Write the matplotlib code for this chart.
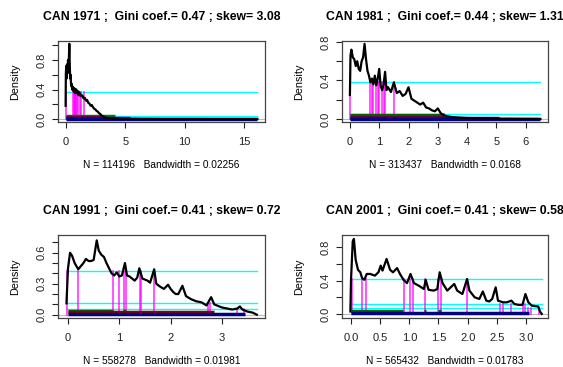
import matplotlib
matplotlib.use("Agg")
import matplotlib.pyplot as plt
import numpy as np

plt.rcParams['font.family'] = ['Liberation Sans', 'DejaVu Sans']

# ---------------------- data ----------------------
titles = ["CAN 1971 ;  Gini coef.= 0.47 ; skew= 3.08",
          "CAN 1981 ;  Gini coef.= 0.44 ; skew= 1.31",
          "CAN 1991 ;  Gini coef.= 0.41 ; skew= 0.72",
          "CAN 2001 ;  Gini coef.= 0.41 ; skew= 0.58"]
xlabels = ["N = 114196   Bandwidth = 0.02256",
           "N = 313437   Bandwidth = 0.0168",
           "N = 558278   Bandwidth = 0.01981",
           "N = 565432   Bandwidth = 0.01783"]

x1971 = [0, 0.02, 0.05, 0.08, 0.12, 0.16, 0.2, 0.24, 0.28, 0.31, 0.34, 0.38, 0.42, 0.46, 0.5,
         0.55, 0.6, 0.65, 0.7, 0.75, 0.8, 0.85, 0.9, 0.95, 1.0, 1.05, 1.1, 1.15, 1.2, 1.3, 1.4,
         1.5, 1.6, 1.7, 1.8, 1.9, 2.0, 2.1, 2.2, 2.3, 2.4, 2.5, 2.6, 2.7, 2.8, 2.9, 3.0, 3.1,
         3.2, 3.3, 3.5, 3.8, 4.2, 4.6, 5.0, 5.5, 6.0, 6.5, 7, 8, 10, 12, 14, 16.1]
y1971 = [0.18, 0.62, 0.72, 0.55, 0.74, 0.62, 0.8, 0.7, 0.85, 1.02, 0.78, 0.55, 0.6, 0.45, 0.48,
         0.4, 0.44, 0.38, 0.42, 0.36, 0.41, 0.35, 0.4, 0.36, 0.38, 0.33, 0.37, 0.32, 0.35, 0.31,
         0.32, 0.28, 0.29, 0.25, 0.26, 0.22, 0.21, 0.18, 0.19, 0.16, 0.14, 0.13, 0.11, 0.1, 0.08,
         0.07, 0.05, 0.04, 0.03, 0.02, 0.015, 0.01, 0.008, 0.006, 0.005, 0.004, 0.003, 0.002,
         0.002, 0.001, 0.001, 0.0, 0.0, 0.0]

x1981 = [0, 0.02, 0.05, 0.1, 0.15, 0.2, 0.25, 0.3, 0.35, 0.4, 0.45, 0.5, 0.55, 0.6, 0.65, 0.7,
         0.75, 0.8, 0.85, 0.9, 0.95, 1.0, 1.05, 1.1, 1.15, 1.2, 1.25, 1.3, 1.4, 1.5, 1.6, 1.7,
         1.8, 1.9, 2.0, 2.1, 2.2, 2.3, 2.4, 2.5, 2.6, 2.7, 2.8, 2.9, 3.0, 3.1, 3.2, 3.3, 3.5,
         3.7, 4.0, 4.3, 4.6, 5.0, 5.5, 6.0, 6.5]
y1981 = [0.25, 0.66, 0.72, 0.64, 0.62, 0.55, 0.6, 0.52, 0.5, 0.6, 0.64, 0.78, 0.62, 0.5, 0.45,
         0.38, 0.42, 0.36, 0.45, 0.35, 0.42, 0.52, 0.34, 0.3, 0.36, 0.49, 0.3, 0.33, 0.28, 0.38,
         0.27, 0.29, 0.24, 0.26, 0.33, 0.21, 0.19, 0.17, 0.15, 0.17, 0.12, 0.11, 0.09, 0.08,
         0.11, 0.06, 0.04, 0.03, 0.02, 0.015, 0.01, 0.008, 0.005, 0.003, 0.002, 0.001, 0.0]

x1991 = [-0.03, 0.0, 0.04, 0.08, 0.13, 0.2, 0.25, 0.3, 0.35, 0.4, 0.45, 0.5, 0.56, 0.6, 0.65,
         0.7, 0.75, 0.8, 0.85, 0.9, 0.95, 1.0, 1.05, 1.11, 1.15, 1.2, 1.25, 1.3, 1.35, 1.39, 1.45,
         1.5, 1.55, 1.6, 1.68, 1.72, 1.8, 1.87, 1.95, 2.0, 2.05, 2.1, 2.15, 2.23, 2.3, 2.4, 2.5,
         2.6, 2.7, 2.79, 2.85, 2.9, 3.0, 3.1, 3.2, 3.3, 3.35, 3.4, 3.5, 3.6, 3.68]
y1991 = [0.11, 0.45, 0.6, 0.57, 0.5, 0.44, 0.47, 0.5, 0.54, 0.52, 0.52, 0.53, 0.72, 0.62, 0.58,
         0.56, 0.5, 0.45, 0.4, 0.38, 0.41, 0.37, 0.38, 0.5, 0.38, 0.37, 0.35, 0.33, 0.36, 0.45,
         0.35, 0.34, 0.33, 0.31, 0.44, 0.3, 0.27, 0.25, 0.29, 0.25, 0.22, 0.2, 0.2, 0.28, 0.18,
         0.15, 0.13, 0.12, 0.09, 0.17, 0.1, 0.09, 0.07, 0.06, 0.05, 0.06, 0.08, 0.05, 0.03, 0.02,
         0.0]

x2001 = [-0.01, 0.0, 0.03, 0.05, 0.08, 0.12, 0.16, 0.19, 0.23, 0.27, 0.33, 0.41, 0.47, 0.51,
         0.54, 0.61, 0.67, 0.72, 0.79, 0.84, 0.9, 0.96, 1.02, 1.08, 1.16, 1.25, 1.28, 1.33, 1.42,
         1.48, 1.52, 1.57, 1.65, 1.77, 1.82, 1.91, 1.99, 2.03, 2.12, 2.2, 2.26, 2.32, 2.37, 2.42,
         2.48, 2.52, 2.61, 2.67, 2.75, 2.8, 2.87, 2.94, 2.99, 3.04, 3.1, 3.21, 3.24, 3.27]
y2001 = [0.03, 0.4, 0.87, 0.9, 0.65, 0.53, 0.5, 0.43, 0.41, 0.48, 0.48, 0.46, 0.5, 0.58, 0.52,
         0.66, 0.53, 0.5, 0.55, 0.48, 0.41, 0.37, 0.48, 0.37, 0.34, 0.3, 0.41, 0.29, 0.28, 0.3,
         0.5, 0.37, 0.28, 0.36, 0.28, 0.24, 0.42, 0.28, 0.2, 0.18, 0.27, 0.16, 0.15, 0.18, 0.32,
         0.16, 0.14, 0.14, 0.16, 0.12, 0.11, 0.11, 0.24, 0.14, 0.1, 0.09, 0.03, 0.0]

curves_x = [x1971, x1981, x1991, x2001]
curves_y = [y1971, y1981, y1991, y2001]

# horizontal cyan levels and the x-extent they run to
cyan_levels = [[0.36, 0.045, 0.008], [0.38, 0.055, 0.006], [0.42, 0.11, 0.055], [0.42, 0.12, 0.075]]
cyan_end = [16.1, 6.5, 3.68, 3.27]

# magenta verticals: (x, top)
mag1971 = [(0.0, 0.36), (0.65, 0.36), (0.7, 0.36), (0.75, 0.36), (0.8, 0.36), (0.9, 0.36),
           (0.95, 0.36), (1.0, 0.36), (1.2, 0.36), (1.3, 0.36), (1.52, 0.36)]
mag1981 = [(0.01, 0.38), (0.68, 0.38), (0.75, 0.38), (0.8, 0.38), (0.88, 0.38), (0.95, 0.38),
           (1.0, 0.38), (1.08, 0.38), (1.15, 0.38), (1.2, 0.38), (1.52, 0.38), (3.2, 0.055)]
mag1991 = [(-0.02, 0.42), (0.2, 0.42), (0.88, 0.42), (1.0, 0.42), (1.1, 0.42), (1.14, 0.42),
           (1.4, 0.42), (1.43, 0.42), (1.68, 0.42), (2.73, 0.11), (2.77, 0.11), (3.3, 0.055),
           (3.43, 0.055)]
mag2001 = [(0.01, 0.42), (0.19, 0.42), (0.26, 0.42), (0.91, 0.42), (1.01, 0.42), (1.06, 0.42),
           (1.27, 0.42), (1.5, 0.42), (1.54, 0.42), (1.99, 0.42), (2.55, 0.12), (2.61, 0.12),
           (2.74, 0.12), (2.94, 0.12), (2.98, 0.12), (3.04, 0.075), (3.08, 0.075), (3.22, 0.075)]
magentas = [mag1971, mag1981, mag1991, mag2001]

# thick bars near the baseline: (colour, level, x start, x end)
bars1971 = [("green", 0.045, 0, 4.15), ("darkred", 0.03, 0, 3.15), ("blue", 0.014, 0, 5.4),
            ("navy", 0.003, 0, 16.1)]
bars1981 = [("darkgreen", 0.04, 0, 3.2), ("darkred", 0.026, 0, 3.2), ("blue", 0.012, 0, 5.1),
            ("navy", 0.003, 0, 6.5)]
bars1991 = [("darkgreen", 0.04, 0, 0.88), ("darkgreen", 0.04, 1.08, 1.14), ("darkred", 0.026, 0, 2.85),
            ("navy", 0.008, 0, 3.45)]
bars2001 = [("darkgreen", 0.035, 0, 0.9), ("darkgreen", 0.035, 1.25, 1.28),
            ("darkgreen", 0.035, 1.5, 1.54), ("navy", 0.008, 0, 3.05)]
bars = [bars1971, bars1981, bars1991, bars2001]

xticks = [[0, 5, 10, 15], [0, 1, 2, 3, 4, 5, 6], [0, 1, 2, 3],
          [0.0, 0.5, 1.0, 1.5, 2.0, 2.5, 3.0]]
xticklabels = [["0", "5", "10", "15"], ["0", "1", "2", "3", "4", "5", "6"], ["0", "1", "2", "3"],
               ["0.0", "0.5", "1.0", "1.5", "2.0", "2.5", "3.0"]]
yticks = [[0, 0.2, 0.4, 0.6, 0.8, 1.0], [0, 0.2, 0.4, 0.6, 0.8],
          [0, 0.1, 0.2, 0.3, 0.4, 0.5, 0.6, 0.7], [0, 0.2, 0.4, 0.6, 0.8]]
yticklabels = [["0.0", "", "0.4", "", "0.8", ""], ["0.0", "", "0.4", "", "0.8"],
               ["0.0", "", "", "0.3", "", "", "0.6", ""], ["0.0", "", "0.4", "", "0.8"]]

# ---------------------- layout ----------------------
W, H = 563, 367
boxes = [(58, 41, 265, 122), (342, 41, 548, 122), (58, 235, 265, 318), (342, 235, 548, 318)]
xlims = [(-0.64, 16.74), (-0.27, 6.76), (-0.195, 3.84), (-0.154, 3.377)]
ylims = [(-0.04, 1.058), (-0.031, 0.81), (-0.032, 0.772), (-0.048, 0.947)]

fig = plt.figure(figsize=(W / 100, H / 100), dpi=100)

for i in range(4):
    x0, y0, x1, y1 = boxes[i]
    ax = fig.add_axes([x0 / W, 1 - y1 / H, (x1 - x0) / W, (y1 - y0) / H])
    ax.set_xlim(*xlims[i])
    ax.set_ylim(*ylims[i])

    ax.axhline(0, color="#bbbbbb", lw=0.8, zorder=1)
    for lev in cyan_levels[i]:
        ax.plot([0 if i < 2 else -0.02, cyan_end[i]], [lev, lev], color="cyan", lw=1, zorder=2)
    for xm, top in magentas[i]:
        ax.plot([xm, xm], [0, top], color="magenta", lw=1.1, alpha=0.85, zorder=3)
    for col, lev, xs, xe in bars[i]:
        ax.plot([xs, xe], [lev, lev], color=col, lw=2.5, solid_capstyle="butt", zorder=4)
    ax.plot(curves_x[i], curves_y[i], color="black", lw=1.6, zorder=5)

    ax.set_xticks(xticks[i])
    ax.set_xticklabels(xticklabels[i])
    ax.set_yticks(yticks[i])
    ax.set_yticklabels(yticklabels[i], rotation=90, va="center")
    ax.tick_params(direction="out", length=4, width=0.8, labelsize=8, colors="#222222")
    ax.tick_params(axis="x", pad=7)
    ax.tick_params(axis="y", pad=4)
    for s in ax.spines.values():
        s.set_color("#444444")
        s.set_linewidth(0.9)

    ax.set_title(titles[i], fontsize=8.8, fontweight="bold", pad=15)
    ax.set_xlabel(xlabels[i], fontsize=7.3, labelpad=9)
    ax.set_ylabel("Density", fontsize=7.8, labelpad=12)

fig.savefig("out.png", dpi=100)
